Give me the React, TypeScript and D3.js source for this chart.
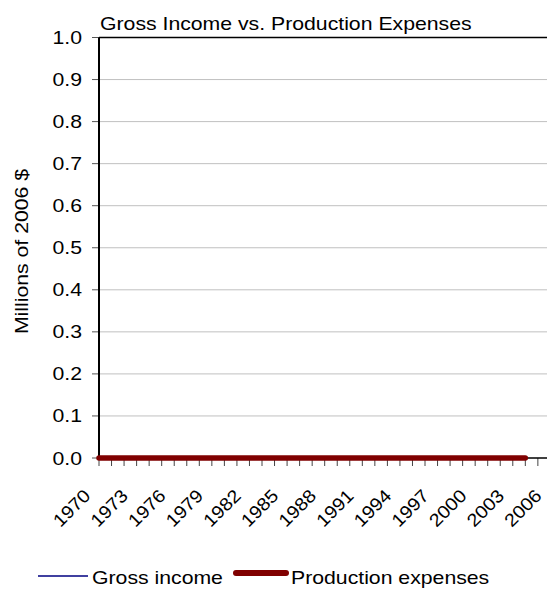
import React, { useEffect, useRef } from 'react';
import * as d3 from 'd3';

const years = [
  1970, 1971, 1972, 1973, 1974, 1975, 1976, 1977, 1978, 1979,
  1980, 1981, 1982, 1983, 1984, 1985, 1986, 1987, 1988, 1989,
  1990, 1991, 1992, 1993, 1994, 1995, 1996, 1997, 1998, 1999,
  2000, 2001, 2002, 2003, 2004,
];
const grossIncome = [
  0, 0, 0, 0, 0, 0, 0, 0, 0, 0,
  0, 0, 0, 0, 0, 0, 0, 0, 0, 0,
  0, 0, 0, 0, 0, 0, 0, 0, 0, 0,
  0, 0, 0, 0, 0,
];
const productionExpenses = [
  0, 0, 0, 0, 0, 0, 0, 0, 0, 0,
  0, 0, 0, 0, 0, 0, 0, 0, 0, 0,
  0, 0, 0, 0, 0, 0, 0, 0, 0, 0,
  0, 0, 0, 0, 0,
];
const yTicks = [0, 0.1, 0.2, 0.3, 0.4, 0.5, 0.6, 0.7, 0.8, 0.9, 1.0];
const xLabels = [1970, 1973, 1976, 1979, 1982, 1985, 1988, 1991, 1994, 1997, 2000, 2003, 2006];

const FONT = "'Liberation Sans', Arial, Helvetica, sans-serif";
const FONT_SIZE = "18px";
// the reference text is set wider than Arial; stretch it along the baseline
const STRETCH = 1.18;

const App: React.FC = () => {
  const svgRef = useRef<SVGSVGElement>(null);

  useEffect(() => {
    if (!svgRef.current) return;
    const svg = d3.select(svgRef.current);
    svg.selectAll("*").remove();

    const width = 547;
    const left = 99;
    const x = d3.scaleLinear().domain([1970, 2006]).range([left, 550.4]);
    const y = d3.scaleLinear().domain([0, 1]).range([458, 37.5]);

    const label = (
      g: d3.Selection<any, unknown, null, undefined>,
      tx: number, ty: number, txt: string, anchor = "start", rot = 0, stretch = STRETCH
    ) => g.append("text")
      .attr("transform", `translate(${tx},${ty}) rotate(${rot}) scale(${stretch},1)`)
      .attr("text-anchor", anchor)
      .style("font-family", FONT)
      .style("font-size", FONT_SIZE)
      .style("fill", "#000")
      .text(txt);

    // gridlines
    svg.append("g")
      .selectAll("line")
      .data(yTicks.filter(t => t > 0 && t < 1))
      .enter().append("line")
      .attr("x1", left).attr("x2", width)
      .attr("y1", d => y(d)).attr("y2", d => y(d))
      .attr("stroke", "#c0c0c0")
      .attr("stroke-width", 1);

    // top border
    svg.append("line")
      .attr("x1", left).attr("x2", width)
      .attr("y1", y(1)).attr("y2", y(1))
      .attr("stroke", "#000").attr("stroke-width", 1.5);

    // y ticks + labels
    const yg = svg.append("g");
    yg.selectAll("line")
      .data(yTicks)
      .enter().append("line")
      .attr("x1", left - 7).attr("x2", left)
      .attr("y1", d => y(d)).attr("y2", d => y(d))
      .attr("stroke", "#555").attr("stroke-width", 1);
    yTicks.forEach(t => {
      label(yg, 82, y(t) + 6.5, t.toFixed(1), "end");
    });

    // x ticks
    svg.append("g")
      .selectAll("line")
      .data(d3.range(0, 36).map(i => 1970 + i))
      .enter().append("line")
      .attr("x1", d => x(d)).attr("x2", d => x(d))
      .attr("y1", y(0)).attr("y2", y(0) + 8)
      .attr("stroke", "#444").attr("stroke-width", 1);

    // x labels
    const xg = svg.append("g");
    xLabels.forEach(yr => {
      label(xg, x(yr) - 7.5, y(0) + 39, String(yr), "end", -45, 1.1);
    });

    // axes
    svg.append("line")
      .attr("x1", left).attr("x2", width)
      .attr("y1", y(0)).attr("y2", y(0))
      .attr("stroke", "#000").attr("stroke-width", 1.5);
    svg.append("line")
      .attr("x1", left).attr("x2", left)
      .attr("y1", y(1)).attr("y2", y(0))
      .attr("stroke", "#000").attr("stroke-width", 2);

    // series
    const line = d3.line<number>()
      .x((_, i) => x(years[i]))
      .y(d => y(d));

    svg.append("path")
      .datum(grossIncome)
      .attr("d", line)
      .attr("fill", "none")
      .attr("stroke", "#000080")
      .attr("stroke-width", 1.5);

    svg.append("path")
      .datum(productionExpenses)
      .attr("d", line)
      .attr("fill", "none")
      .attr("stroke", "#800000")
      .attr("stroke-width", 5.5)
      .attr("stroke-linecap", "round");

    // title
    label(svg, 100, 30, "Gross Income vs. Production Expenses");

    // y axis label
    label(svg, 28, 251.5, "Millions of 2006 $", "middle", -90);

    // legend
    const legend = svg.append("g");
    legend.append("line")
      .attr("x1", 38).attr("x2", 88)
      .attr("y1", 576).attr("y2", 576)
      .attr("stroke", "#000080").attr("stroke-width", 1.5);
    label(legend, 92, 584, "Gross income");
    legend.append("line")
      .attr("x1", 236).attr("x2", 286)
      .attr("y1", 573).attr("y2", 573)
      .attr("stroke", "#800000").attr("stroke-width", 6)
      .attr("stroke-linecap", "round");
    label(legend, 291, 584, "Production expenses");
  }, []);

  return (
    <svg
      ref={svgRef}
      width="547"
      height="589"
      style={{ position: "absolute", left: 0, top: 0, background: "#fff" }}
    />
  );
};

export default App;
